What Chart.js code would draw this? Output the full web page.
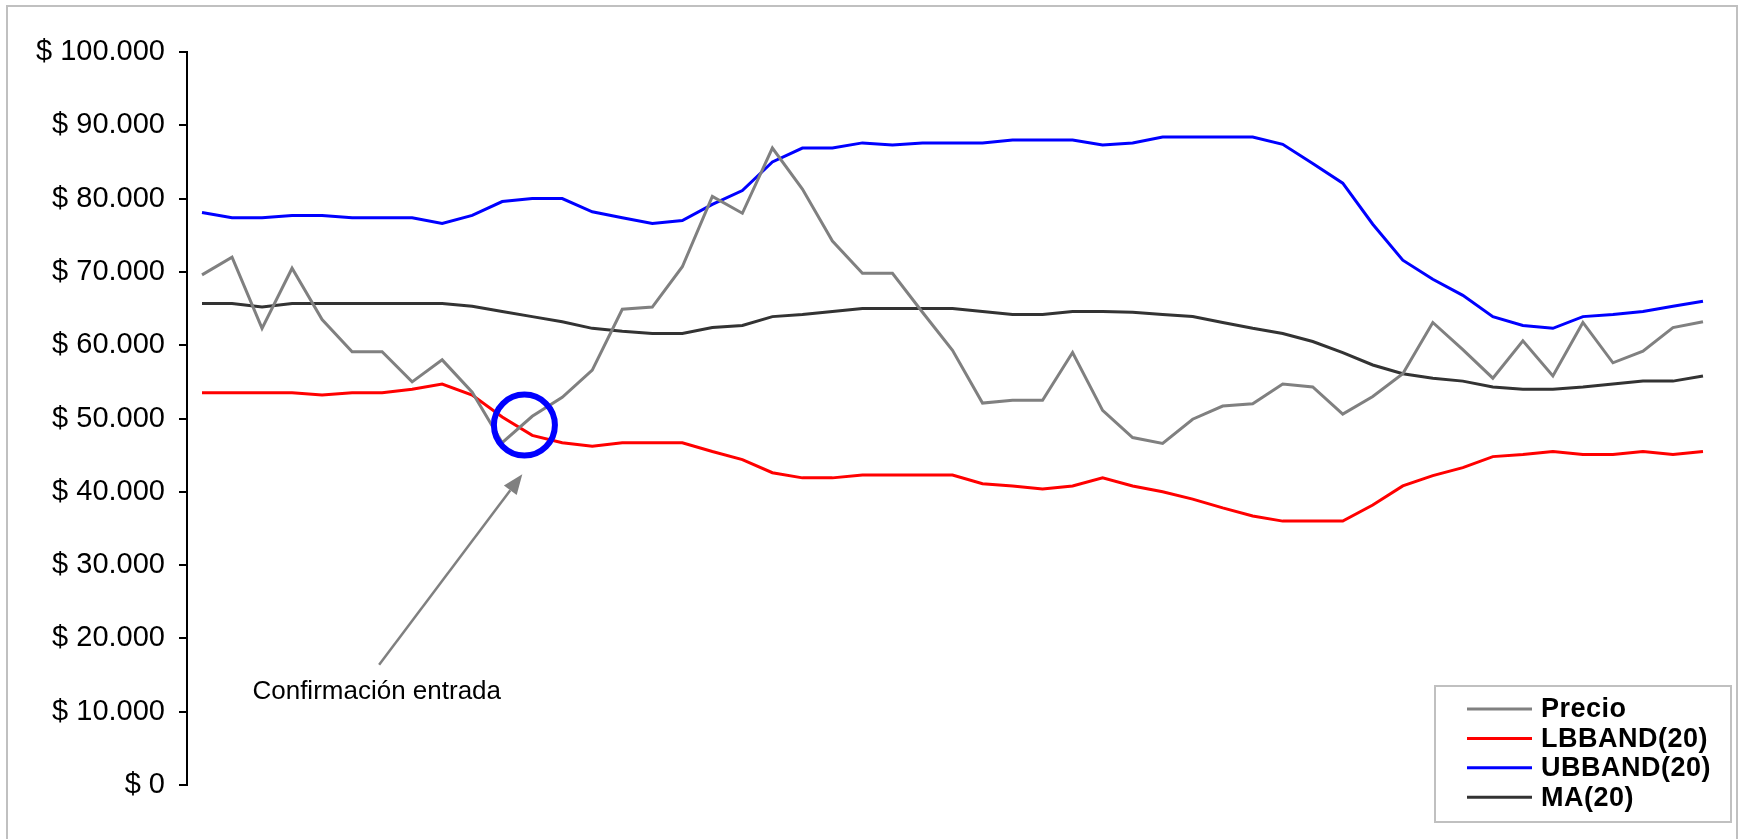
<!DOCTYPE html>
<html>
<head>
<meta charset="utf-8">
<script src="https://cdn.jsdelivr.net/npm/chart.js@4.4.0/dist/chart.umd.min.js"></script>
<style>
  html, body { margin: 0; padding: 0; background: #fff; }
  canvas { display: block; }
</style>
</head>
<body>
<canvas id="bbChart" width="1743" height="839"></canvas>
<script>
// datos (51 sesiones)
var sessions = [];
for (var i = 1; i <= 51; i++) sessions.push("D" + i);

var precio = [69600, 72000, 62300, 70500, 63500, 59100, 59100, 55000, 58000, 53600,
  46700, 50300, 52900, 56600, 64900, 65200, 70700, 80300, 78000, 86900,
  81300, 74200, 69800, 69800, 64500, 59300, 52100, 52500, 52500, 59000,
  51100, 47400, 46600, 49900, 51700, 52000, 54700, 54300, 50600, 53000,
  56100, 63100, 59400, 55500, 60600, 55800, 63100, 57600, 59200, 62400, 63200];

var lbband = [53500, 53500, 53500, 53500, 53200, 53500, 53500, 54000, 54700, 53200,
  50200, 47700, 46700, 46200, 46700, 46700, 46700, 45500, 44400, 42600,
  41900, 41900, 42300, 42300, 42300, 42300, 41100, 40800, 40400, 40800,
  41900, 40800, 40000, 39000, 37800, 36700, 36000, 36000, 36000, 38200,
  40800, 42200, 43300, 44800, 45100, 45500, 45100, 45100, 45500, 45100, 45500];

var ubband = [78100, 77400, 77400, 77700, 77700, 77400, 77400, 77400, 76600, 77700,
  79600, 80000, 80000, 78200, 77400, 76600, 77000, 79200, 81100, 85000,
  86900, 86900, 87600, 87300, 87600, 87600, 87600, 88000, 88000, 88000,
  87300, 87600, 88400, 88400, 88400, 88400, 87400, 84800, 82100, 76500,
  71600, 69000, 66800, 63900, 62700, 62300, 63900, 64200, 64600, 65300, 66000];

var ma20 = [65700, 65700, 65200, 65700, 65700, 65700, 65700, 65700, 65700, 65300,
  64600, 63900, 63200, 62300, 61900, 61600, 61600, 62400, 62700, 63900,
  64200, 64600, 65000, 65000, 65000, 65000, 64600, 64200, 64200, 64600,
  64600, 64500, 64200, 63900, 63100, 62300, 61600, 60500, 59000, 57300,
  56100, 55500, 55100, 54300, 54000, 54000, 54300, 54700, 55100, 55100, 55800];

var yTicks = [0, 10000, 20000, 30000, 40000, 50000, 60000, 70000, 80000, 90000, 100000];

// anotacion: circulo en el cruce, flecha y texto (indice de sesion, valor)
var circleAt = { x: 10.74, y: 49100 };
var arrowFrom = { x: 5.9, y: 16400 };
var arrowTo = { x: 10.67, y: 42400 };
var noteAt = { x: 5.82, y: 12700 };
var noteText = "Confirmación entrada";

var FONT = "'Liberation Sans', Arial, Helvetica, sans-serif";

function fmtPeso(v) {
  return "$ " + String(v).replace(/\B(?=(\d{3})+(?!\d))/g, ".");
}

// marco gris exterior
var framePlugin = {
  id: 'frame',
  beforeDraw: function (chart) {
    var c = chart.ctx;
    c.save();
    c.fillStyle = '#fff';
    c.fillRect(0, 0, chart.width, chart.height);
    c.strokeStyle = '#c0c0c0';
    c.lineWidth = 2;
    c.strokeRect(7, 6, 1730, 850);
    c.restore();
  }
};

// circulo, flecha y texto
var notePlugin = {
  id: 'note',
  afterDatasetsDraw: function (chart) {
    var c = chart.ctx, sx = chart.scales.x, sy = chart.scales.y;
    c.save();
    // circulo azul
    c.strokeStyle = '#0000ff';
    c.lineWidth = 6;
    c.beginPath();
    c.arc(sx.getPixelForValue(circleAt.x), sy.getPixelForValue(circleAt.y), 30.5, 0, Math.PI * 2);
    c.stroke();
    // flecha
    var x0 = sx.getPixelForValue(arrowFrom.x), y0 = sy.getPixelForValue(arrowFrom.y);
    var x1 = sx.getPixelForValue(arrowTo.x), y1 = sy.getPixelForValue(arrowTo.y);
    var ang = Math.atan2(y1 - y0, x1 - x0);
    var hl = 20, hw = 8;
    var bx = x1 - hl * Math.cos(ang), by = y1 - hl * Math.sin(ang);
    c.strokeStyle = '#808080';
    c.fillStyle = '#808080';
    c.lineWidth = 2.5;
    c.beginPath();
    c.moveTo(x0, y0);
    c.lineTo(bx, by);
    c.stroke();
    c.beginPath();
    c.moveTo(x1, y1);
    c.lineTo(bx + hw * Math.sin(ang), by - hw * Math.cos(ang));
    c.lineTo(bx - hw * Math.sin(ang), by + hw * Math.cos(ang));
    c.closePath();
    c.fill();
    // texto
    c.fillStyle = '#000';
    c.font = '26px ' + FONT;
    c.textAlign = 'center';
    c.textBaseline = 'middle';
    c.fillText(noteText, sx.getPixelForValue(noteAt.x), sy.getPixelForValue(noteAt.y));
    c.restore();
  }
};

// leyenda en recuadro abajo a la derecha
var boxLegend = {
  id: 'boxLegend',
  afterDraw: function (chart) {
    var c = chart.ctx;
    var bx = 1435, by = 686, bw = 296, bh = 136;
    c.save();
    c.fillStyle = '#fff';
    c.fillRect(bx, by, bw, bh);
    c.strokeStyle = '#c0c0c0';
    c.lineWidth = 2;
    c.strokeRect(bx, by, bw, bh);
    c.font = 'bold 27px ' + FONT;
    c.textAlign = 'left';
    c.textBaseline = 'middle';
    if ('letterSpacing' in c) c.letterSpacing = '0.5px';
    chart.data.datasets.forEach(function (ds, i) {
      var ry = 709 + i * 29.4;
      c.strokeStyle = ds.borderColor;
      c.lineWidth = 3;
      c.beginPath();
      c.moveTo(1467, ry);
      c.lineTo(1532, ry);
      c.stroke();
      c.fillStyle = '#000';
      c.fillText(ds.label, 1541, ry + 1);
    });
    c.restore();
  }
};

var ctx = document.getElementById("bbChart");
var bbChart = new Chart(ctx, {
  type: 'line',
  data: {
    labels: sessions,
    datasets: [{
      label: "Precio",
      data: precio,
      borderColor: "#808080",
      borderWidth: 3,
      pointRadius: 0,
      tension: 0
    }, {
      label: "LBBAND(20)",
      data: lbband,
      borderColor: "#ff0000",
      borderWidth: 3,
      pointRadius: 0,
      tension: 0
    }, {
      label: "UBBAND(20)",
      data: ubband,
      borderColor: "#0000ff",
      borderWidth: 3,
      pointRadius: 0,
      tension: 0
    }, {
      label: "MA(20)",
      data: ma20,
      borderColor: "#333333",
      borderWidth: 3,
      pointRadius: 0,
      tension: 0
    }]
  },
  options: {
    responsive: false,
    animation: false,
    layout: {
      padding: { left: 0, top: 52, right: 25, bottom: 54 }
    },
    scales: {
      x: {
        display: false,
        offset: true
      },
      y: {
        min: 0,
        max: 100000,
        afterFit: function (scale) { scale.width = 187; },
        afterBuildTicks: function (scale) {
          scale.ticks = yTicks.map(function (v) { return { value: v }; });
        },
        ticks: {
          padding: 14,
          color: '#000',
          font: { family: FONT, size: 29 },
          callback: function (v) { return fmtPeso(v); }
        },
        grid: {
          drawOnChartArea: false,
          drawTicks: true,
          tickLength: 8,
          color: '#000',
          lineWidth: 2
        },
        border: { color: '#000', width: 2 }
      }
    },
    plugins: {
      legend: { display: false },
      tooltip: { enabled: false }
    }
  },
  plugins: [framePlugin, notePlugin, boxLegend]
});
</script>
</body>
</html>
